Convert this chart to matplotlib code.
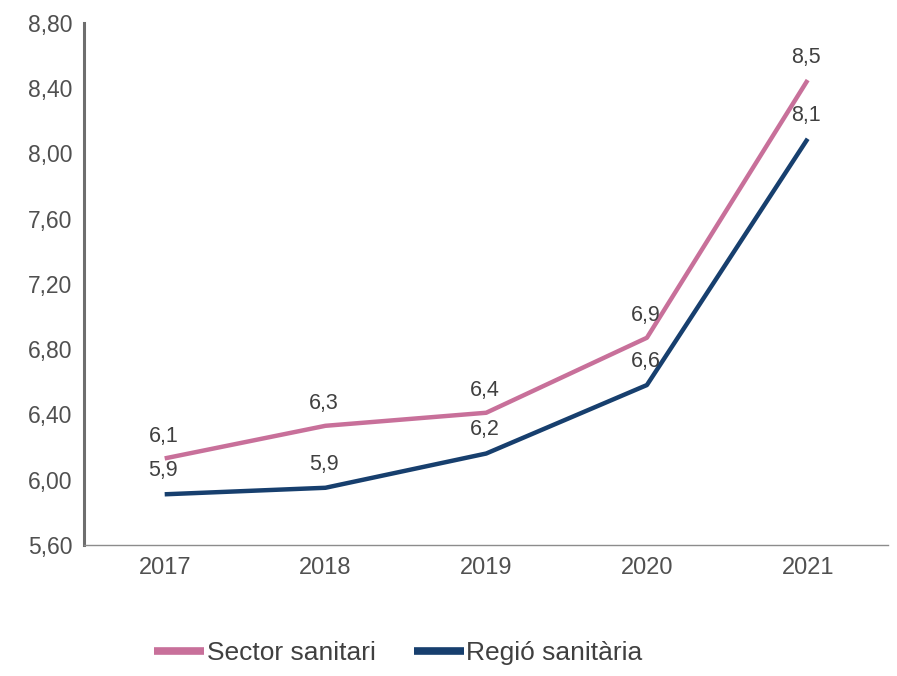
import matplotlib
matplotlib.use("Agg")
import matplotlib.pyplot as plt
from matplotlib.ticker import FuncFormatter

plt.rcParams['font.family'] = ['Liberation Sans', 'DejaVu Sans']

years = ['2017', '2018', '2019', '2020', '2021']
sector = [6.13, 6.33, 6.41, 6.87, 8.45]
regio = [5.91, 5.95, 6.16, 6.58, 8.09]
sector_labels = ['6,1', '6,3', '6,4', '6,9', '8,5']
regio_labels = ['5,9', '5,9', '6,2', '6,6', '8,1']

pink = '#c8709a'
blue = '#173f6e'
txt = '#404040'

fig = plt.figure(figsize=(8.97, 6.76), dpi=100)
ax = fig.add_axes([0.094, 0.194, 0.896, 0.772])

x = range(len(years))
l1, = ax.plot(x, sector, color=pink, lw=3.2, label='Sector sanitari', solid_capstyle='butt')
l2, = ax.plot(x, regio, color=blue, lw=3.2, label='Regió sanitària', solid_capstyle='butt')

for xi, v, s in zip(x, sector, sector_labels):
    ax.annotate(s, (xi, v), xytext=(-1, 16), textcoords='offset points',
                ha='center', va='center', fontsize=15.5, color=txt)
for xi, v, s in zip(x, regio, regio_labels):
    ax.annotate(s, (xi, v), xytext=(-1, 17), textcoords='offset points',
                ha='center', va='center', fontsize=15.5, color=txt)

ax.set_xlim(-0.5, 4.5)
ax.set_ylim(5.6, 8.8)
ax.set_yticks([5.6, 6.0, 6.4, 6.8, 7.2, 7.6, 8.0, 8.4, 8.8])
ax.yaxis.set_major_formatter(FuncFormatter(lambda v, p: f'{v:.2f}'.replace('.', ',')))
ax.set_xticks(list(x))
ax.set_xticklabels(years)
ax.tick_params(length=0, labelsize=17, colors='#505050', pad=8.5)
ax.tick_params(axis='y', labelsize=16.5, pad=8.5)

for s in ['top', 'right']:
    ax.spines[s].set_visible(False)
ax.spines['left'].set_color('#6e6e6e')
ax.spines['left'].set_linewidth(2.2)
ax.spines['bottom'].set_color('#8c8c8c')
ax.spines['bottom'].set_linewidth(1.0)

fig.legend(handles=[l1, l2], loc='center', bbox_to_anchor=(0.444, 0.034), ncol=2,
           frameon=False, fontsize=19, handlelength=1.9, handletextpad=0.1,
           columnspacing=1.45, labelcolor=txt)
for h in fig.legends[0].legend_handles:
    h.set_linewidth(5.5)

fig.savefig('out.png', dpi=100)
